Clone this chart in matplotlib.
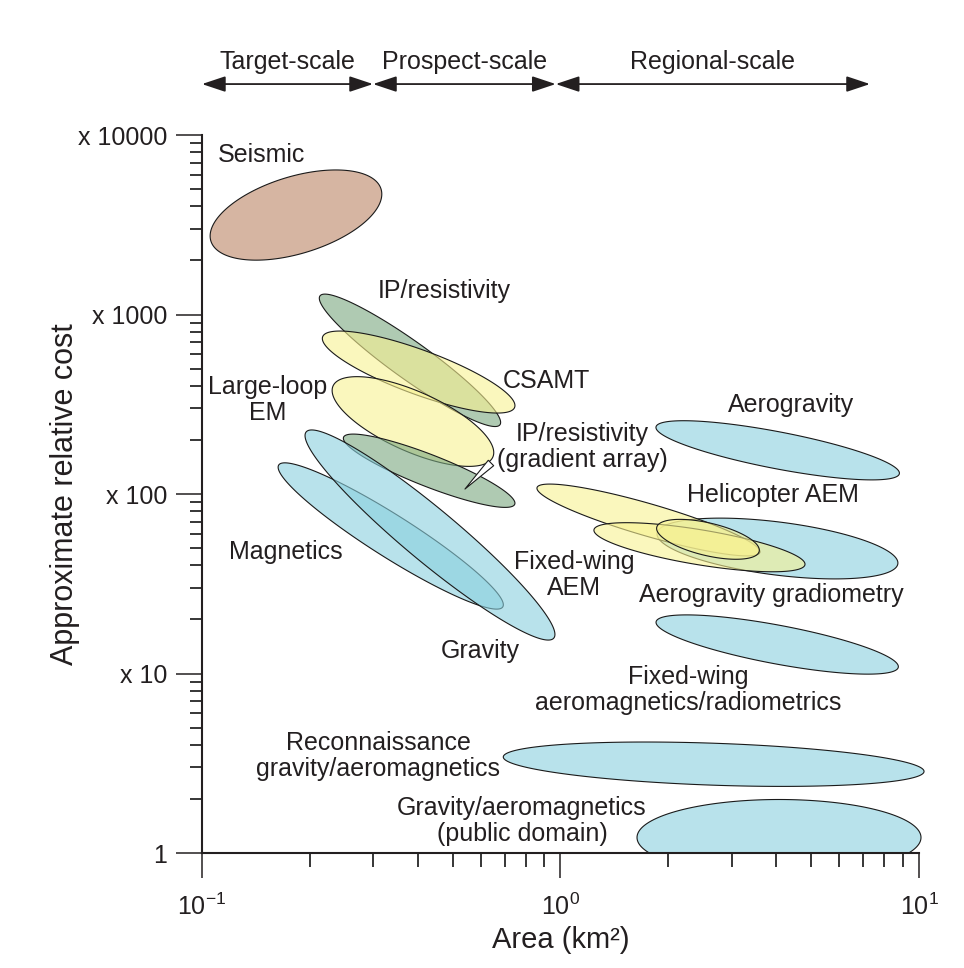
import numpy as np
import matplotlib
matplotlib.use('Agg')
import matplotlib.pyplot as plt
from matplotlib.patches import Rectangle
from matplotlib.ticker import FixedLocator, LogLocator, NullFormatter

plt.rcParams['font.family'] = ['Liberation Sans', 'DejaVu Sans']
plt.rcParams['mathtext.fontset'] = 'custom'
plt.rcParams['mathtext.rm'] = 'Liberation Sans'
plt.rcParams['mathtext.it'] = 'Liberation Sans:italic'

# each method = ellipse in log-log space: ends of the long axis (area km2, relative cost)
# and thickness across it (decades of area)
methods = ['Seismic', 'IP/resistivity', 'CSAMT', 'Large-loop EM', 'IP/resistivity (gradient array)',
           'Magnetics', 'Gravity', 'Aerogravity gradiometry', 'Fixed-wing AEM', 'Helicopter AEM',
           'Helicopter AEM (small)', 'Aerogravity', 'Fixed-wing aeromagnetics/radiometrics',
           'Reconnaissance gravity/aeromagnetics', 'Gravity/aeromagnetics (public domain)']
kind = ['seismic', 'ip', 'em', 'em', 'ip', 'pot', 'pot', 'pot', 'em', 'em', 'em', 'pot', 'pot', 'pot', 'pot']
area_lo = [0.1059, 0.2134, 0.2171, 0.2321, 0.2483, 0.1637, 0.1953, 1.860, 0.8603, 1.240, 1.856, 1.847, 1.848, 0.6926, 1.635]
cost_lo = [2567, 1270, 752, 400, 207.2, 145.0, 221.8, 60.4, 108.6, 63.2, 65.3, 236.5, 19.41, 3.43, 1.22]
area_hi = [0.3159, 0.678, 0.745, 0.6476, 0.7455, 0.6903, 0.958, 8.731, 3.599, 4.808, 3.583, 8.816, 8.756, 10.33, 10.13]
cost_hi = [5000, 243.2, 304, 160.6, 87.7, 23.5, 15.75, 40.9, 47.3, 40.4, 47.9, 129.8, 10.84, 2.845, 1.22]
spread = [0.215, 0.105, 0.124, 0.167, 0.089, 0.118, 0.147, 0.148, 0.090, 0.0976, 0.091, 0.103, 0.108, 0.117, 0.212]

labels = ['Seismic', 'IP/resistivity', 'CSAMT', 'Large-loop\nEM', 'IP/resistivity\n(gradient array)',
          'Magnetics', 'Gravity', 'Fixed-wing\nAEM', 'Aerogravity', 'Helicopter AEM',
          'Aerogravity gradiometry', 'Fixed-wing\naeromagnetics/radiometrics',
          'Reconnaissance\ngravity/aeromagnetics', 'Gravity/aeromagnetics\n(public domain)']
label_pos = [(0.147, 7740), (0.473, 1352), (0.911, 426), (0.1527, 334), (1.148, 182.7),
             (0.1715, 47.5), (0.5964, 13.35), (1.091, 35.4), (4.395, 313), (3.914, 98.7),
             (3.866, 27.4), (2.268, 8.09), (0.3097, 3.47), (0.781, 1.508)]

scale_names = ['Target-scale', 'Prospect-scale', 'Regional-scale']
scale_lo = [0.1, 0.3, 0.97]
scale_hi = [0.3, 0.97, 7.3]

ytick_vals = [1, 10, 100, 1000, 10000]
ytick_text = ['1', 'x 10', 'x 100', 'x 1000', 'x 10000']
xtick_vals = [0.1, 1, 10]
xtick_text = [r'$\mathregular{10^{-1}}$', r'$\mathregular{10^{0}}$', r'$\mathregular{10^{1}}$']

colors = {'seismic': '#bc8464', 'ip': '#7aa880', 'em': '#f8f291', 'pot': '#8ad0de'}

W, H = 9.64, 9.68
fig = plt.figure(figsize=(W, H), dpi=100)
ax = fig.add_axes([0.2095, 0.1188, 0.7438, 0.7417])
ax.set_xscale('log')
ax.set_yscale('log')
ax.set_xlim(0.1, 10)
ax.set_ylim(1, 10000)

# screen ratio of one cost decade to one area decade, so ellipses look right on screen
pos = ax.get_position()
k = (pos.height * H / 4) / (pos.width * W / 2)


def ellipse(a1, c1, a2, c2, w, n=300):
    p1 = np.array([np.log10(a1), np.log10(c1) * k])
    p2 = np.array([np.log10(a2), np.log10(c2) * k])
    ctr = (p1 + p2) / 2
    d = p2 - p1
    half = np.hypot(d[0], d[1]) / 2
    u = d / (2 * half)
    nrm = np.array([-u[1], u[0]])
    t = np.linspace(0, 2 * np.pi, n)
    pts = ctr[:, None] + half * np.cos(t) * u[:, None] + (w / 2) * np.sin(t) * nrm[:, None]
    return 10 ** pts[0], 10 ** (pts[1] / k)


clip = Rectangle((0, 0), 1.02, 1.2, transform=ax.transAxes, visible=False)
ax.add_patch(clip)
for i in range(len(methods)):
    xs, ys = ellipse(area_lo[i], cost_lo[i], area_hi[i], cost_hi[i], spread[i])
    poly = ax.fill(xs, ys, edgecolor='#1a1a1a', lw=0.8)[0]
    poly.set_facecolor(matplotlib.colors.to_rgba(colors[kind[i]], 0.6))
    poly.set_clip_path(clip)

for txt, (x, y) in zip(labels, label_pos):
    ax.text(x, y, txt, ha='center', va='center', fontsize=18, color='#231f20', linespacing=1.1, zorder=5)

# pointer from the gradient-array label to its ellipse
ax.annotate('', xy=(0.5415, 106.6), xytext=(0.64, 148.9),
            arrowprops=dict(arrowstyle='wedge,tail_width=0.55,shrink_factor=0.5',
                            fc='white', ec='#1a1a1a', lw=0.8, shrinkA=0, shrinkB=0), zorder=6)

# scale bands above the plot
tr = ax.get_xaxis_transform()
for name, lo, hi in zip(scale_names, scale_lo, scale_hi):
    ax.annotate('', xy=(hi, 1.071), xytext=(lo, 1.071), xycoords=tr, textcoords=tr,
                arrowprops=dict(arrowstyle='<|-|>,head_length=0.72,head_width=0.24', mutation_scale=20,
                                fc='#231f20', ec='#231f20', lw=1.3, shrinkA=0, shrinkB=0),
                annotation_clip=False)
    ax.text(np.sqrt(lo * hi), 1.1017, name, transform=tr, ha='center', va='center',
            fontsize=18, color='#231f20')

for s in ['top', 'right']:
    ax.spines[s].set_visible(False)
for s in ['left', 'bottom']:
    ax.spines[s].set_linewidth(1.5)
    ax.spines[s].set_color('#231f20')

ax.yaxis.set_major_locator(FixedLocator(ytick_vals))
ax.set_yticklabels(ytick_text)
ax.yaxis.set_minor_locator(LogLocator(base=10, subs=np.arange(2, 10)))
ax.yaxis.set_minor_formatter(NullFormatter())
ax.xaxis.set_major_locator(FixedLocator(xtick_vals))
ax.set_xticklabels(xtick_text)
ax.xaxis.set_minor_locator(LogLocator(base=10, subs=np.arange(2, 10)))
ax.xaxis.set_minor_formatter(NullFormatter())

ax.tick_params(axis='y', which='major', length=19, width=1.1, pad=6, labelsize=18, colors='#231f20')
ax.tick_params(axis='y', which='minor', length=8.5, width=1.1)
ax.tick_params(axis='x', which='major', length=18, width=1.1, pad=11, labelsize=18, colors='#231f20')
ax.tick_params(axis='x', which='minor', length=10, width=1.1)

ax.set_xlabel('Area (km²)', fontsize=21, color='#231f20')
ax.set_ylabel('Approximate relative cost', fontsize=22, color='#231f20')
ax.xaxis.set_label_coords(0.5, -0.102)
ax.yaxis.set_label_coords(-0.17, 0.5)

fig.savefig('out.png', dpi=100)
